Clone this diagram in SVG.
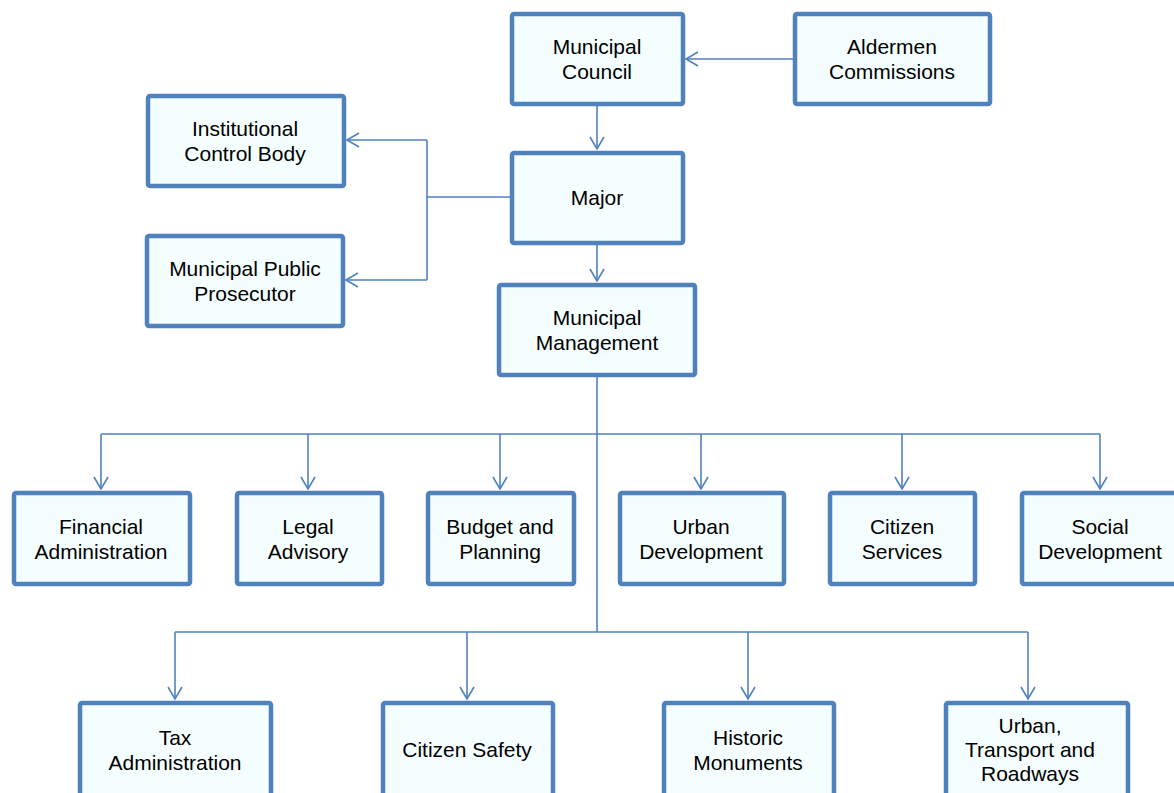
<svg xmlns="http://www.w3.org/2000/svg" width="1174" height="793" viewBox="0 0 1174 793">
  <style>
    .box { fill: #F4FEFF; stroke: #4F81BD; stroke-width: 4.5; }
    .lbl { font-family: "Liberation Sans", Arial, sans-serif; font-size: 21px; fill: #000; text-anchor: middle; }
    .wire { fill: none; stroke: #4F81BD; stroke-width: 1.6; }
  </style>
  <defs>
    <marker id="arr" markerWidth="16" markerHeight="16" refX="13" refY="8" orient="auto" markerUnits="userSpaceOnUse">
      <path d="M1,1 L13,8 L1,15" fill="none" stroke="#4F81BD" stroke-width="1.6"/>
    </marker>
  </defs>

  <rect width="1174" height="793" fill="#FFFFFF"/>

  <!-- connectors -->
  <g id="connectors" class="wire">
    <path d="M793,59 H686" marker-end="url(#arr)"/>
    <path d="M597,105 V149" marker-end="url(#arr)"/>
    <path d="M510,197 H427"/>
    <path d="M427,140 V280"/>
    <path d="M427,140 H347" marker-end="url(#arr)"/>
    <path d="M427,280 H346" marker-end="url(#arr)"/>
    <path d="M597,244 V281" marker-end="url(#arr)"/>
    <path d="M597,376 V632"/>
    <path d="M101,434 H1100"/>
    <path d="M101,434 V489" marker-end="url(#arr)"/>
    <path d="M308,434 V489" marker-end="url(#arr)"/>
    <path d="M500,434 V489" marker-end="url(#arr)"/>
    <path d="M701,434 V489" marker-end="url(#arr)"/>
    <path d="M902,434 V489" marker-end="url(#arr)"/>
    <path d="M1100,434 V489" marker-end="url(#arr)"/>
    <path d="M175,632 H1028"/>
    <path d="M175,632 V699" marker-end="url(#arr)"/>
    <path d="M467,632 V699" marker-end="url(#arr)"/>
    <path d="M748,632 V699" marker-end="url(#arr)"/>
    <path d="M1028,632 V699" marker-end="url(#arr)"/>
  </g>

  <g id="municipal-council">
    <rect class="box" x="512" y="14" width="171" height="90" rx="2"/>
    <text class="lbl" x="597" y="54">Municipal</text>
    <text class="lbl" x="597" y="79">Council</text>
  </g>
  <g id="aldermen-commissions">
    <rect class="box" x="795" y="14" width="195" height="90" rx="2"/>
    <text class="lbl" x="892" y="54">Aldermen</text>
    <text class="lbl" x="892" y="79">Commissions</text>
  </g>
  <g id="institutional-control-body">
    <rect class="box" x="148" y="96" width="196" height="90" rx="2"/>
    <text class="lbl" x="245" y="136">Institutional</text>
    <text class="lbl" x="245" y="161">Control Body</text>
  </g>
  <g id="major">
    <rect class="box" x="512" y="153" width="171" height="90" rx="2"/>
    <text class="lbl" x="597" y="205">Major</text>
  </g>
  <g id="municipal-public-prosecutor">
    <rect class="box" x="147" y="236" width="196" height="90" rx="2"/>
    <text class="lbl" x="245" y="276">Municipal Public</text>
    <text class="lbl" x="245" y="301">Prosecutor</text>
  </g>
  <g id="municipal-management">
    <rect class="box" x="499" y="285" width="196" height="90" rx="2"/>
    <text class="lbl" x="597" y="325">Municipal</text>
    <text class="lbl" x="597" y="350">Management</text>
  </g>

  <g id="financial-administration">
    <rect class="box" x="14" y="493" width="176" height="91" rx="2"/>
    <text class="lbl" x="101" y="534">Financial</text>
    <text class="lbl" x="101" y="559">Administration</text>
  </g>
  <g id="legal-advisory">
    <rect class="box" x="237" y="493" width="145" height="91" rx="2"/>
    <text class="lbl" x="308" y="534">Legal</text>
    <text class="lbl" x="308" y="559">Advisory</text>
  </g>
  <g id="budget-and-planning">
    <rect class="box" x="428" y="493" width="146" height="91" rx="2"/>
    <text class="lbl" x="500" y="534">Budget and</text>
    <text class="lbl" x="500" y="559">Planning</text>
  </g>
  <g id="urban-development">
    <rect class="box" x="620" y="493" width="164" height="91" rx="2"/>
    <text class="lbl" x="701" y="534">Urban</text>
    <text class="lbl" x="701" y="559">Development</text>
  </g>
  <g id="citizen-services">
    <rect class="box" x="830" y="493" width="145" height="91" rx="2"/>
    <text class="lbl" x="902" y="534">Citizen</text>
    <text class="lbl" x="902" y="559">Services</text>
  </g>
  <g id="social-development">
    <rect class="box" x="1022" y="493" width="156" height="91" rx="2"/>
    <text class="lbl" x="1100" y="534">Social</text>
    <text class="lbl" x="1100" y="559">Development</text>
  </g>

  <g id="tax-administration">
    <rect class="box" x="80" y="703" width="191" height="100" rx="2"/>
    <text class="lbl" x="175" y="745">Tax</text>
    <text class="lbl" x="175" y="770">Administration</text>
  </g>
  <g id="citizen-safety">
    <rect class="box" x="383" y="703" width="170" height="100" rx="2"/>
    <text class="lbl" x="467" y="757">Citizen Safety</text>
  </g>
  <g id="historic-monuments">
    <rect class="box" x="664" y="703" width="170" height="100" rx="2"/>
    <text class="lbl" x="748" y="745">Historic</text>
    <text class="lbl" x="748" y="770">Monuments</text>
  </g>
  <g id="urban-transport-roadways">
    <rect class="box" x="946" y="703" width="182" height="100" rx="2"/>
    <text class="lbl" x="1030" y="733">Urban,</text>
    <text class="lbl" x="1030" y="757">Transport and</text>
    <text class="lbl" x="1030" y="781">Roadways</text>
  </g>
</svg>
